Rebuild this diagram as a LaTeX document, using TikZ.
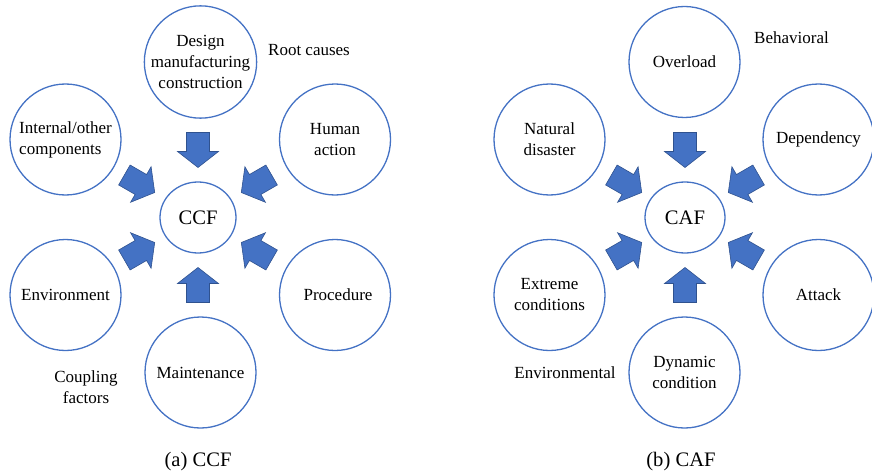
\documentclass[tikz,border=0pt]{standalone}
\usepackage{fontspec}
\setmainfont{Liberation Serif}
\usetikzlibrary{shapes.geometric}

% block arrow pointing at a failure node, from the side given by an angle
\newcommand{\pusharrow}[2]{%
  \begin{scope}[shift={(#1.center)},rotate=#2]
    \draw[blockarrow] (50,0) -- (66,20.5) -- (66,11.5) -- (85,11.5)
      -- (85,-11.5) -- (66,-11.5) -- (66,-20.5) -- cycle;
  \end{scope}}

\begin{document}
\begin{tikzpicture}[x=1pt,y=1pt,
  cause/.style={circle,draw=ringblue,line width=1.3pt,minimum size=111pt,
    inner sep=0pt,align=center,font=\fontsize{17}{21}\selectfont},
  failure/.style={ellipse,draw=ringblue,line width=1.3pt,minimum height=71pt,
    inner sep=0pt,font=\fontsize{20.6}{24}\selectfont},
  tag/.style={align=center,font=\fontsize{17}{21}\selectfont},
  caption/.style={font=\fontsize{20.6}{24}\selectfont},
  blockarrow/.style={fill=arrowblue,draw=arrowedge,line width=0.6pt}]

  % Changing color
  \definecolor{ringblue}{RGB}{68,114,196}%
  \definecolor{arrowblue}{RGB}{68,114,196}%
  \definecolor{arrowedge}{RGB}{47,82,143}%

  \useasboundingbox (0,0) rectangle (872,-476);

  % (a) common cause failure
  \node[failure,minimum width=76pt] (ccf) at (198,-217.5) {CCF};
  \node[cause] (design) at (200.5,-62) {Design\\manufacturing\\construction};
  \node[cause] (human) at (335,-139.5) {Human\\action};
  \node[cause,align=left] (internal) at (65.5,-139.5) {Internal/other\\components};
  \node[cause] (environment) at (65.5,-295) {Environment};
  \node[cause] (procedure) at (335,-295) {\hspace*{6pt}Procedure};
  \node[cause] (maintenance) at (200.5,-372.5) {Maintenance};

  % Drawing arrows into CCF
  \foreach \ang in {90,30,150,210,-30,270} {\pusharrow{ccf}{\ang}}

  \node[tag] (rootcauses) at (309,-50) {Root causes};
  \node[tag] (coupling) at (86,-387) {Coupling\\factors};
  \node[caption] (capa) at (198,-462) {(a) CCF};

  % (b) cascading failure
  \node[failure,minimum width=80pt] (caf) at (685,-217.5) {CAF};
  \node[cause] (overload) at (684.5,-62) {Overload};
  \node[cause] (natural) at (549.5,-139.5) {Natural\\disaster};
  \node[cause] (dependency) at (818.5,-139.5) {Dependency};
  \node[cause] (extreme) at (549.5,-295) {Extreme\\conditions};
  \node[cause] (attack) at (818.5,-295) {Attack};
  \node[cause] (dynamic) at (684.5,-372.5) {Dynamic\\condition};

  % Drawing arrows into CAF
  \foreach \ang in {90,30,150,210,-30,270} {\pusharrow{caf}{\ang}}

  \node[tag] (behavioral) at (791.5,-38) {Behavioral};
  \node[tag] (environmental) at (565,-373) {Environmental};
  \node[caption] (capb) at (681,-462) {(b) CAF};
\end{tikzpicture}
\end{document}
